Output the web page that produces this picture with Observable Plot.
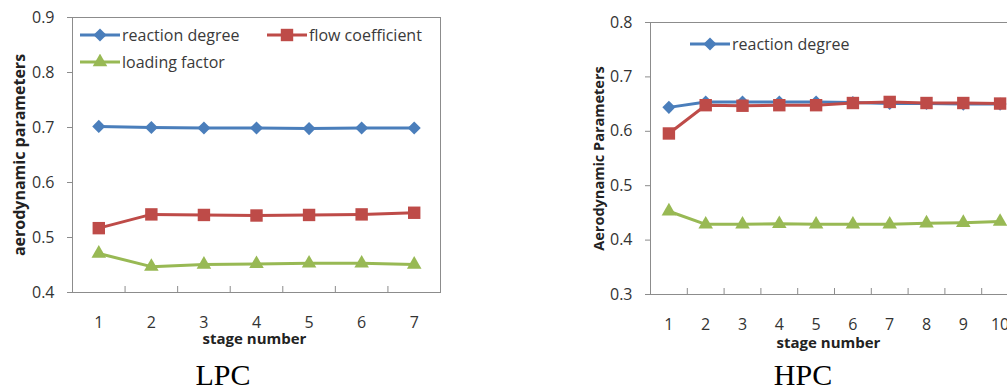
<!DOCTYPE html>
<html><head><meta charset="utf-8">
<script src="https://cdn.jsdelivr.net/npm/d3@7"></script>
<script src="https://cdn.jsdelivr.net/npm/@observablehq/plot@0.6"></script>
<style>
html,body{margin:0;padding:0;background:#fff;overflow:hidden;width:1007px;height:392px;}
#wrap{position:relative;width:1007px;height:392px;overflow:hidden;}
.panel{position:absolute;top:0;}
.caption{position:absolute;width:200px;height:34px;line-height:34px;text-align:center;font-family:"Liberation Serif","Times New Roman",serif;font-size:30px;color:#000;white-space:nowrap;}
.legend{position:absolute;font-family:"Open Sans",Lato,sans-serif;font-size:16px;color:#3a3a3a;display:flex;align-items:center;white-space:nowrap;transform:translateY(-50%);}
.legend svg{display:block;margin-right:2px;}
</style>
</head><body>
<div id="wrap"></div>
<script>
// ---- data ----
const stagesLPC = [1, 2, 3, 4, 5, 6, 7];
const stagesHPC = [1, 2, 3, 4, 5, 6, 7, 8, 9, 10];
const seriesNames = ["reaction degree", "flow coefficient", "loading factor"];
const seriesColors = ["#4A7EBB", "#BE4B48", "#98B954"];
const seriesSymbols = ["diamond2", "square", "triangle"];

const lpcReaction = [0.702, 0.700, 0.699, 0.699, 0.698, 0.699, 0.699];
const lpcFlow     = [0.517, 0.542, 0.541, 0.540, 0.541, 0.542, 0.545];
const lpcLoading  = [0.471, 0.447, 0.451, 0.452, 0.453, 0.453, 0.451];

const hpcReaction = [0.644, 0.654, 0.654, 0.654, 0.654, 0.653, 0.651, 0.651, 0.650, 0.650];
const hpcFlow     = [0.596, 0.648, 0.647, 0.648, 0.648, 0.652, 0.654, 0.652, 0.652, 0.651];
const hpcLoading  = [0.453, 0.429, 0.429, 0.430, 0.429, 0.429, 0.429, 0.431, 0.432, 0.434];

const lpcYTicks = [0.4, 0.5, 0.6, 0.7, 0.8, 0.9];
const hpcYTicks = [0.3, 0.4, 0.5, 0.6, 0.7, 0.8];

const lpcYLabel = "aerodynamic parameters";
const hpcYLabel = "Aerodynamic Parameters";
const xLabel = "stage number";
const captions = ["LPC", "HPC"];

// ---- drawing ----
const symbolR = {diamond2: 5.9, square: 7, triangle: 5.4};

function makePanel({stages, series, yTicks, yLabel, width, height, marginLeft, marginRight, marginTop, marginBottom, labelDx, labelFont, xLabelDy, xLabelDx, xLabelFont}) {
  const n = stages.length;
  const data = series.flatMap((vals, s) => stages.map((st, i) => ({stage: st, value: vals[i], s})));
  const bounds = d3.range(1, n).map(i => i + 0.5);
  const marks = [
    Plot.frame({stroke: "#8c8c8c"}),
    Plot.axisY({ticks: yTicks, tickFormat: d3.format(".1f"), tickSize: 5, tickPadding: 13, stroke: "#8c8c8c", label: null, fill: "#333"}),
    Plot.axisX({ticks: stages, tickFormat: d => d, tickSize: 0, tickPadding: 24, label: null, fill: "#333"}),
    Plot.axisX({ticks: bounds, tickFormat: () => "", tickSize: -6, stroke: "#8c8c8c", label: null}),
    Plot.text([yLabel], {text: d => d, frameAnchor: "left", textAnchor: "middle", lineAnchor: "middle", rotate: -90, dx: labelDx, fontWeight: "bold", fontSize: labelFont, fill: "#222"}),
    Plot.text([xLabel], {text: d => d, frameAnchor: "bottom", textAnchor: "middle", lineAnchor: "middle", dy: xLabelDy, dx: xLabelDx, fontWeight: "bold", fontSize: xLabelFont, fill: "#222"})
  ];
  series.forEach((vals, s) => {
    const d = data.filter(r => r.s === s);
    marks.push(Plot.line(d, {x: "stage", y: "value", stroke: seriesColors[s], strokeWidth: 3}));
    marks.push(Plot.dot(d, {x: "stage", y: "value", fill: seriesColors[s], stroke: null, symbol: seriesSymbols[s], r: symbolR[seriesSymbols[s]]}));
  });
  return Plot.plot({
    width, height, marginLeft, marginRight, marginTop, marginBottom,
    style: {fontFamily: "'Open Sans', Lato, sans-serif", fontSize: "16px", color: "#333", background: "transparent", overflow: "visible"},
    x: {type: "linear", domain: [0.5, n + 0.5]},
    y: {domain: [yTicks[0], yTicks[yTicks.length - 1]]},
    marks
  });
}

const wrap = document.getElementById("wrap");

const lpc = makePanel({stages: stagesLPC, series: [lpcReaction, lpcFlow, lpcLoading], yTicks: lpcYTicks, yLabel: lpcYLabel,
  width: 450, height: 350, marginLeft: 72, marginRight: 10, marginTop: 17, marginBottom: 58,
  labelDx: -53, labelFont: 16, xLabelDy: 47, xLabelDx: -2, xLabelFont: 15});
lpc.classList.add("panel"); lpc.style.left = "0px";
wrap.appendChild(lpc);

const hpc = makePanel({stages: stagesHPC, series: [hpcReaction, hpcFlow, hpcLoading], yTicks: hpcYTicks, yLabel: hpcYLabel,
  width: 448, height: 350, marginLeft: 70, marginRight: 10, marginTop: 22, marginBottom: 56,
  labelDx: -51, labelFont: 14.5, xLabelDy: 49, xLabelDx: -6, xLabelFont: 15});
hpc.classList.add("panel"); hpc.style.left = "580px";
wrap.appendChild(hpc);

// captions
[[223, 375], [803, 375]].forEach(([x, y], i) => {
  const c = document.createElement("div");
  c.className = "caption"; c.textContent = captions[i];
  c.style.left = (x - 100) + "px"; c.style.top = (y - 17) + "px";
  wrap.appendChild(c);
});

// legends
function legendItem(s, x, y) {
  const el = document.createElement("div");
  el.className = "legend";
  el.style.left = x + "px"; el.style.top = y + "px";
  const svg = d3.create("svg").attr("width", 40).attr("height", 16);
  svg.append("line").attr("x1", 0).attr("x2", 40).attr("y1", 8).attr("y2", 8).attr("stroke", seriesColors[s]).attr("stroke-width", 3);
  const sym = {diamond2: d3.symbolDiamond2, square: d3.symbolSquare, triangle: d3.symbolTriangle}[seriesSymbols[s]];
  const r = symbolR[seriesSymbols[s]];
  svg.append("path").attr("d", d3.symbol(sym, Math.PI * r * r)()).attr("transform", "translate(20,8)").attr("fill", seriesColors[s]);
  el.appendChild(svg.node());
  const t = document.createElement("span"); t.textContent = seriesNames[s];
  el.appendChild(t);
  wrap.appendChild(el);
}
legendItem(0, 80, 35);
legendItem(1, 267, 35);
legendItem(2, 80, 62);
legendItem(0, 690, 44);
</script>
</body></html>
